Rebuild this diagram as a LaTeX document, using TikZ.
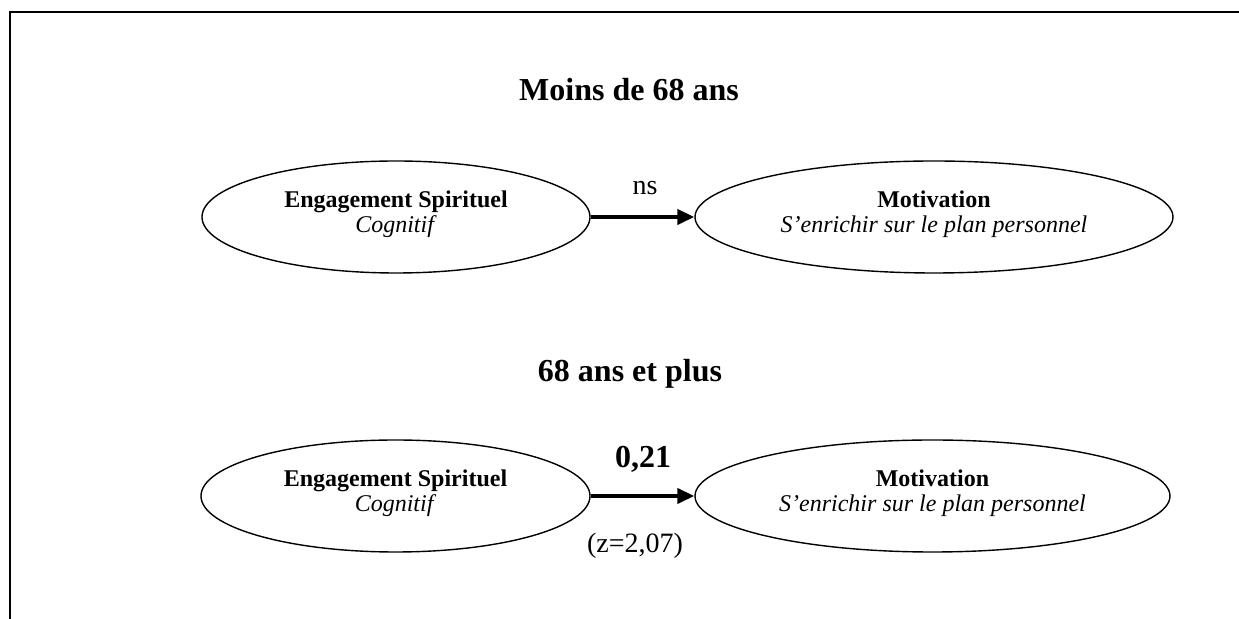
\documentclass[tikz,border=0pt]{standalone}
\usepackage{fontspec}
\setmainfont{Liberation Serif}
\usetikzlibrary{shapes.geometric,arrows.meta}
\begin{document}
\begin{tikzpicture}[x=0.5pt,y=-0.5pt,
    blob/.style={draw, ellipse, line width=0.7pt, inner sep=0pt, align=center,
      font=\fontsize{12}{12.5}\selectfont, text depth=5.5pt, minimum height=56pt},
    heading/.style={font=\fontsize{16}{18}\selectfont\bfseries, anchor=base},
    link/.style={line width=2pt, -{Triangle[length=8.5pt,width=7.5pt]}}]
    \useasboundingbox (0,0) rectangle (1239,619);
    \draw[line width=1pt] (10,619) -- (10,12) -- (1239,12);
    % moins de 68 ans
    \node[heading] (young) at (629,101) {Moins de 68 ans};
    \node[blob, minimum width=194pt] (esa) at (396,217) {\textbf{Engagement Spirituel}\\\textit{Cognitif}};
    \node[blob, minimum width=239pt] (mota) at (934,217) {\textbf{Motivation}\\\textit{S’enrichir sur le plan personnel}};
    \draw[link] (esa.east) -- (mota.west);
    \node[anchor=base, font=\fontsize{14}{16}\selectfont] (nsa) at (645,195) {ns};
    % 68 ans et plus
    \node[heading] (old) at (630,382) {68 ans et plus};
    \node[blob, minimum width=194.5pt] (esb) at (395.5,496) {\textbf{Engagement Spirituel}\\\textit{Cognitif}};
    \node[blob, minimum width=237.5pt] (motb) at (932.5,496) {\textbf{Motivation}\\\textit{S’enrichir sur le plan personnel}};
    \draw[link] (esb.east) -- (motb.west);
    \node[anchor=base, font=\fontsize{16}{18}\selectfont\bfseries] (coef) at (643,468) {0,21};
    \node[anchor=base, font=\fontsize{14}{16}\selectfont] (zval) at (635,553) {(z=2,07)};
\end{tikzpicture}
\end{document}
